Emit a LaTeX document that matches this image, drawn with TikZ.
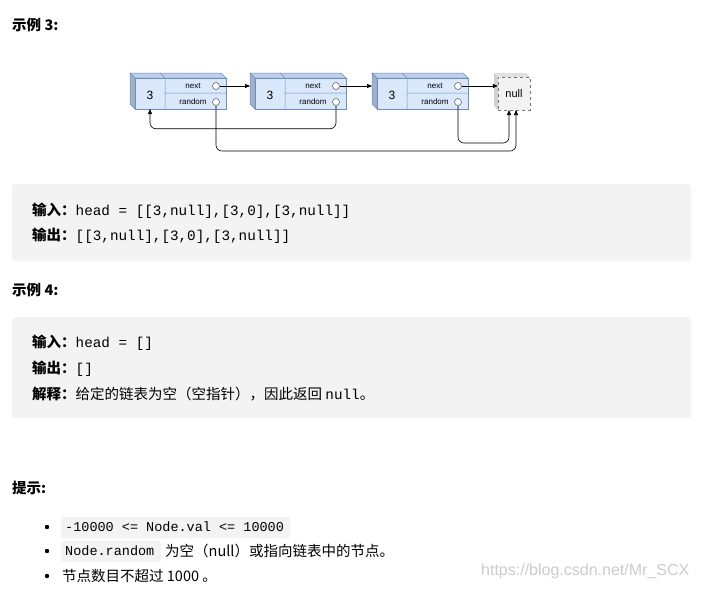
\documentclass[tikz,border=0pt]{standalone}
\usepackage{fontspec}
\setmainfont{Noto Sans CJK SC}
\setmonofont{Liberation Mono}
\newfontfamily\hand{Liberation Sans}
\usetikzlibrary{arrows.meta}
\definecolor{nfill}{HTML}{DAE8FC}
\definecolor{nline}{HTML}{6C8EBF}
\definecolor{side}{HTML}{BFD0EA}
\definecolor{codebg}{HTML}{F3F3F3}
\tikzset{
  txt/.style={anchor=west,inner sep=0pt,font=\fontsize{14.5}{16}\selectfont},
  hd/.style={anchor=west,inner sep=0pt,font=\bfseries\fontsize{14.5}{16}\selectfont},
  code/.style={anchor=west,inner sep=0pt,font=\ttfamily\fontsize{13.5}{15}\selectfont},
  lbl/.style={inner sep=0pt,font=\hand\fontsize{8}{9}\selectfont},
  ptr/.style={-{Triangle[length=5pt,width=4pt]},line width=0.6pt},
  hole/.style={circle,draw=black!70,fill=white,line width=0.5pt,minimum size=7pt,inner sep=0pt},
}
\newcommand{\llnode}[2]{%
  \begin{scope}[shift={(#1,0)}]
  \draw[nline,fill=side,line width=0.5pt] (0,73)--(91,73)--(96,78)--(5,78)--cycle;
  \draw[nline,fill=side!85!black,line width=0.5pt] (0,73)--(5,78)--(5,109)--(0,104)--cycle;
  \draw[nline,fill=nfill,line width=0.5pt] (5,78) rectangle (96,109);
  \draw[nline,line width=0.5pt] (35,78)--(35,109) (35,93)--(96,93) (35,78)--(30,73);
  \node[font=\hand\fontsize{12}{14}\selectfont] at (20,95) {3};
  \node[lbl] at (63,86) {next};
  \node[lbl] at (63,102) {random};
  \node[hole] (#2n) at (86,86) {};
  \node[hole] (#2r) at (86,102) {};
  \coordinate (#2b) at (20,109);
  \coordinate (#2l) at (0,86);
  \end{scope}}
\begin{document}
\begin{tikzpicture}[x=1pt,y=-1pt]
\useasboundingbox[fill=white] (0,0) rectangle (706,589);
\node[hd] (t3) at (12,25) {示例 3:};
\llnode{130}{a}
\llnode{250}{b}
\llnode{372}{c}
\fill[black!12] (494,73)--(526,73)--(530,77)--(498,77)--cycle;
\fill[black!18] (494,73)--(498,77)--(498,110)--(494,106)--cycle;
\node[draw=black!55,dashed,fill=black!5,minimum width=32pt,minimum height=33pt,inner sep=0pt,font=\hand\fontsize{11}{13}\selectfont] (null) at (514,93.5) {null};
\draw[ptr] (an) -- (bl);
\draw[ptr] (bn) -- (cl);
\draw[ptr] (cn) -- (null.west |- cn);
\draw[ptr,rounded corners=6pt] (br.south) -- ++(0,23) -| (ab);
\draw[ptr,rounded corners=6pt] (ar.south) -- (216,151) -| (516,110);
\draw[ptr,rounded corners=6pt] (cr.south) -- (458,143) -| (509,110);
\fill[codebg,rounded corners=3pt] (12,184) rectangle (691,261);
\node[txt] (i1) at (32,211) {\textbf{输入：}\texttt{\fontsize{14.3}{16}\selectfont head = [[3,null],[3,0],[3,null]]}};
\node[txt] (o1) at (32,236) {\textbf{输出：}\texttt{\fontsize{14.3}{16}\selectfont [[3,null],[3,0],[3,null]]}};
\node[hd] (t4) at (12,290) {示例 4:};
\fill[codebg,rounded corners=3pt] (12,317) rectangle (691,418);
\node[txt] (i2) at (32,343) {\textbf{输入：}\texttt{\fontsize{14.3}{16}\selectfont head = []}};
\node[txt] (o2) at (32,369) {\textbf{输出：}\texttt{\fontsize{14.3}{16}\selectfont []}};
\node[txt] (e2) at (32,394) {\textbf{解释：}给定的链表为空（空指针），因此返回 \texttt{\fontsize{14.3}{16}\selectfont null}。};
\node[hd] (tip) at (12,488) {提示:};
\foreach \y in {527,551,576} \fill (47,\y) circle (2.2pt);
\fill[codebg,rounded corners=2pt] (61,517) rectangle (290,538);
\node[code] (c1) at (65,527) {-10000 <= Node.val <= 10000};
\fill[codebg,rounded corners=2pt] (61,541) rectangle (161,562);
\node[code] (c2) at (65,551) {Node.random};
\node[txt] (c2b) at (165,551) {为空（null）或指向链表中的节点。};
\node[txt] (c3) at (62,576) {节点数目不超过 1000 。};
\node[txt,text=black!20,font=\hand\fontsize{16}{18}\selectfont] (wm) at (481,571) {https://blog.csdn.net/Mr\_SCX};
\end{tikzpicture}
\end{document}
